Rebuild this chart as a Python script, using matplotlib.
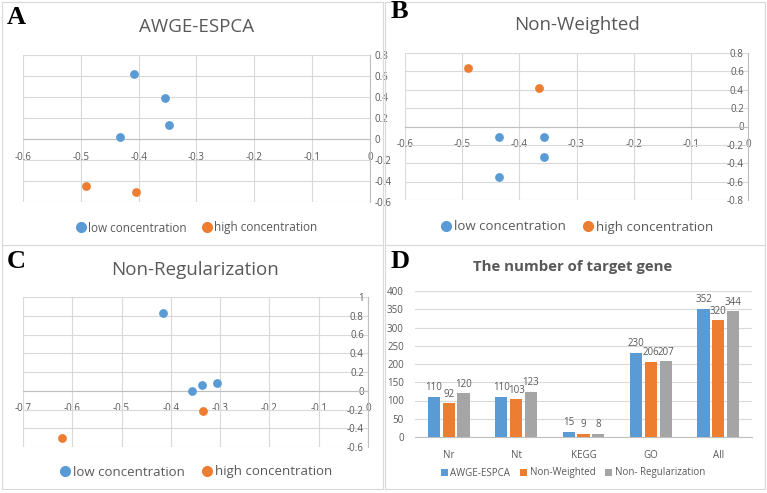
import numpy as np
import matplotlib
matplotlib.use("Agg")
from matplotlib import pyplot as plt
from matplotlib.lines import Line2D
from matplotlib.patches import Rectangle

plt.rcParams['font.family'] = ['Open Sans', 'DejaVu Sans']

W, H = 767, 493
BLUE = '#5B9BD5'
ORANGE = '#ED7D31'
GRAY = '#A5A5A5'
TXT = '#595959'
GRID = '#D9D9D9'

# panel A
a_low_x = [-0.408, -0.355, -0.347, -0.432]
a_low_y = [0.617, 0.389, 0.13, 0.016]
a_high_x = [-0.491, -0.405]
a_high_y = [-0.449, -0.506]

# panel B
b_low_x = [-0.435, -0.356, -0.356, -0.435]
b_low_y = [-0.109, -0.109, -0.335, -0.545]
b_high_x = [-0.489, -0.365]
b_high_y = [0.636, 0.415]

# panel C
c_low_x = [-0.415, -0.357, -0.336, -0.307]
c_low_y = [0.833, -0.004, 0.06, 0.082]
c_high_x = [-0.334, -0.621]
c_high_y = [-0.216, -0.5]

# panel D
categories = ['Nr', 'Nt', 'KEGG', 'GO', 'All']
methods = ['AWGE-ESPCA', 'Non-Weighted', 'Non- Regularization']
awge = [110, 110, 15, 230, 352]
nonweighted = [92, 103, 9, 206, 320]
nonreg = [120, 123, 8, 207, 344]

fig = plt.figure(figsize=(W / 100, H / 100), dpi=100)


def px_axes(x0, y0, x1, y1):
    return fig.add_axes([x0 / W, 1 - y1 / H, (x1 - x0) / W, (y1 - y0) / H])


def fmt(v):
    v = round(v, 2)
    if abs(v) < 1e-9:
        return '0'
    return f'{v:g}'


def panel_letter(s, px, py):
    fig.text(px / W, 1 - py / H, s, family='Liberation Serif', fontweight='bold',
             fontsize=19, ha='left', va='center')


def scatter_panel(box, title, title_y, lx, ly, hx, hy, xlim, ylim, leg_y, leg_fs,
                  labels_outside):
    x0, y0, x1, y1 = box
    ax = px_axes(x0, y0, x1, y1)
    ax.scatter(lx, ly, s=40, color=BLUE, zorder=3, linewidths=0)
    ax.scatter(hx, hy, s=40, color=ORANGE, zorder=3, linewidths=0)
    ax.set_xlim(*xlim)
    ax.set_ylim(*ylim)
    xt = np.arange(xlim[0], xlim[1] + 1e-9, 0.1)
    yt = np.arange(ylim[0], ylim[1] + 1e-9, 0.2)
    ax.set_xticks(xt)
    ax.set_yticks(yt)
    ax.set_xticklabels([fmt(v) for v in xt])
    ax.set_yticklabels([fmt(v) for v in yt])
    ax.grid(True, color=GRID, linewidth=0.8)
    ax.set_axisbelow(True)
    ax.spines['top'].set_visible(False)
    ax.spines['bottom'].set_position(('data', 0))
    ax.spines['bottom'].set_color('#BFBFBF')
    if labels_outside:
        ax.spines['left'].set_visible(False)
        ax.spines['right'].set_position(('data', 0))
        ax.spines['right'].set_color('#BFBFBF')
        ax.yaxis.tick_right()
    else:
        ax.spines['right'].set_visible(False)
        ax.spines['left'].set_position(('data', 0))
        ax.spines['left'].set_color('#BFBFBF')
        ax.yaxis.tick_left()
    ax.tick_params(axis='x', length=0, pad=9, labelsize=7, labelcolor=TXT)
    ax.tick_params(axis='y', length=0, pad=3, labelsize=7, labelcolor=TXT)
    fig.text((x0 + x1) / 2 / W, 1 - title_y / H, title, ha='center', va='center',
             fontsize=13.5, color=TXT)
    handles = [Line2D([], [], marker='o', linestyle='', color=BLUE, markersize=7),
               Line2D([], [], marker='o', linestyle='', color=ORANGE, markersize=7)]
    leg = fig.legend(handles, ['low concentration', 'high concentration'], ncol=2,
                     loc='center', bbox_to_anchor=((x0 + x1) / 2 / W, 1 - leg_y / H),
                     frameon=False, fontsize=leg_fs, handletextpad=0.1,
                     columnspacing=1.2, handlelength=1.0)
    for t in leg.get_texts():
        t.set_color(TXT)
    return ax


scatter_panel((23, 55, 370, 202), 'AWGE-ESPCA', 27,
              a_low_x, a_low_y, a_high_x, a_high_y, (-0.6, 0), (-0.6, 0.8), 228, 8.5, True)
scatter_panel((405, 53, 748, 200), 'Non-Weighted', 25,
              b_low_x, b_low_y, b_high_x, b_high_y, (-0.6, 0), (-0.8, 0.8), 227, 9.5, False)
scatter_panel((23, 297, 368, 447), 'Non-Regularization', 270,
              c_low_x, c_low_y, c_high_x, c_high_y, (-0.7, 0), (-0.6, 1.0), 472, 9.5, False)
panel_letter('A', 7, 17)
panel_letter('B', 391, 12)
panel_letter('C', 7, 261)
panel_letter('D', 391, 262)

# bar panel
ax = px_axes(415, 291, 752, 437)
x = np.arange(len(categories))
w = 0.18
off = 0.22
for i, (vals, col) in enumerate(zip([awge, nonweighted, nonreg], [BLUE, ORANGE, GRAY])):
    bars = ax.bar(x + (i - 1) * off, vals, width=w, color=col, label=methods[i], zorder=3)
    for b, v in zip(bars, vals):
        ax.text(b.get_x() + b.get_width() / 2, v + 10, str(v), ha='center', va='bottom',
                fontsize=7, color=TXT)
ax.set_xlim(-0.5, len(categories) - 0.5)
ax.set_ylim(0, 400)
ax.set_yticks(np.arange(0, 401, 50))
ax.set_xticks(x)
ax.set_xticklabels(categories)
ax.grid(True, axis='y', color=GRID, linewidth=0.8)
ax.set_axisbelow(True)
for s in ['top', 'left', 'right']:
    ax.spines[s].set_visible(False)
ax.spines['bottom'].set_color('#BFBFBF')
ax.tick_params(axis='both', length=0, labelsize=7, labelcolor=TXT)
ax.tick_params(axis='x', pad=9)
ax.tick_params(axis='y', pad=8)
fig.text(573 / W, 1 - 267 / H, 'The number of target gene', ha='center', va='center',
         fontsize=10.8, fontweight='bold', color=TXT)
leg = fig.legend(loc='center', bbox_to_anchor=(573 / W, 1 - 473 / H), ncol=3,
                 handles=ax.containers, labels=methods,
                 frameon=False, fontsize=7, handlelength=0.7, handleheight=0.7,
                 handletextpad=0.3, columnspacing=1.0)
for t in leg.get_texts():
    t.set_color(TXT)

# panel borders
for (bx0, by0, bx1, by1) in [(2, 2, 383, 245), (385, 2, 765, 245),
                             (2, 245, 383, 489), (385, 245, 765, 489)]:
    fig.patches.append(Rectangle((bx0 / W, 1 - by1 / H), (bx1 - bx0) / W, (by1 - by0) / H,
                                 transform=fig.transFigure, fill=False,
                                 edgecolor='#D9D9D9', linewidth=0.8))

fig.savefig('out.png', dpi=100)
